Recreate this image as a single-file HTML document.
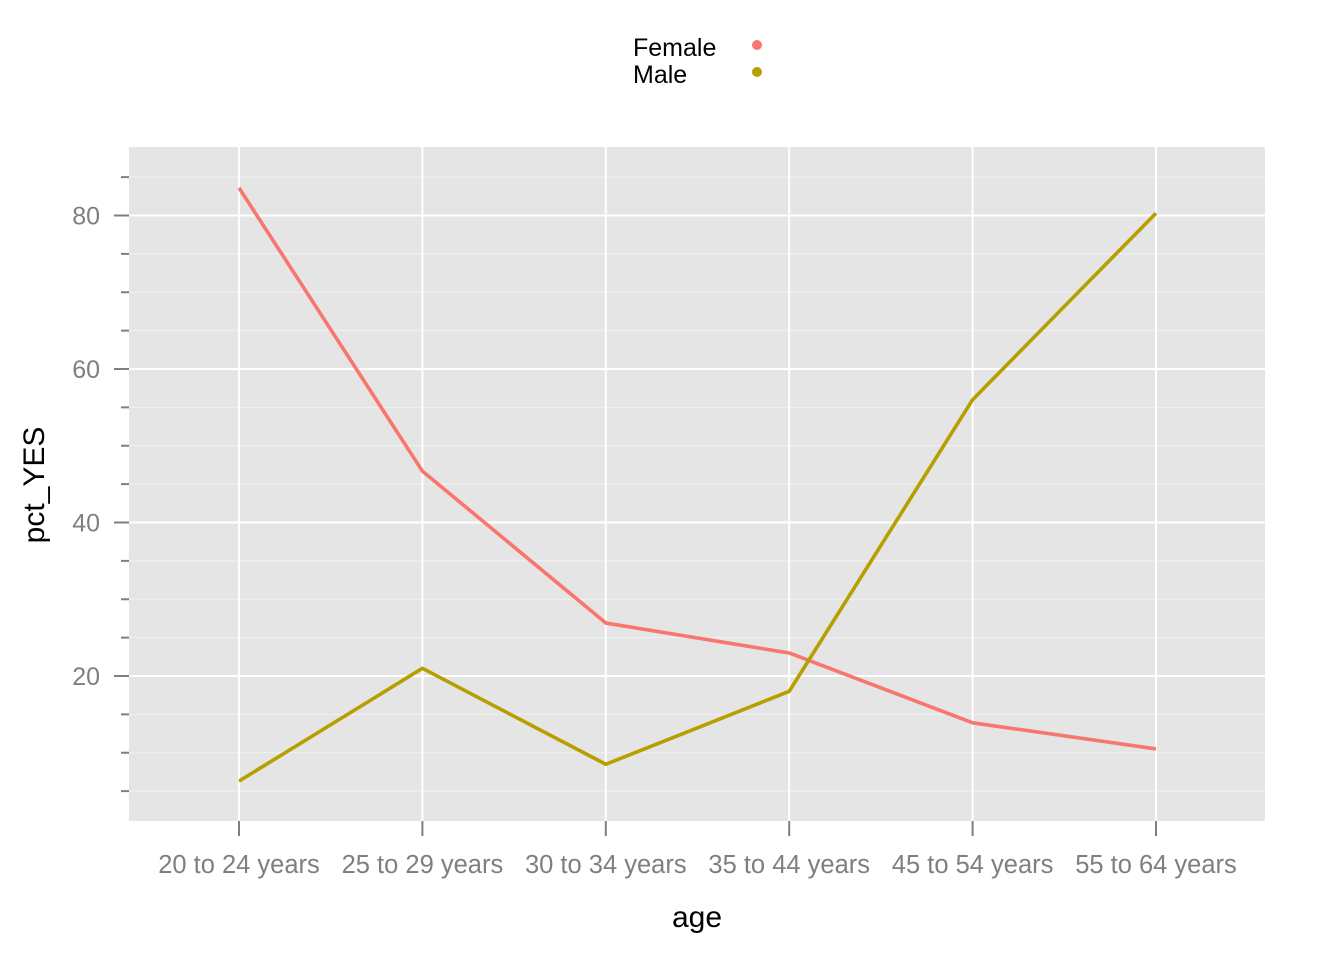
<!DOCTYPE html>
<html><head><meta charset="utf-8"><style>
body{margin:0;background:#fff;}
svg{display:block;font-family:"Liberation Sans",Arial,sans-serif;}
</style></head><body>
<svg id="chart" width="1344" height="960" viewBox="0 0 1344 960">
<rect x="129" y="147" width="1136" height="674" fill="#e5e5e5"/>
<g id="grid"></g><g id="axes"></g><g id="series"></g>
<text x="697" y="927" font-size="30" text-anchor="middle" fill="#000">age</text>
<text transform="translate(44,485) rotate(-90)" font-size="30" text-anchor="middle" fill="#000">pct_YES</text>
<g>
<text x="633" y="56" font-size="25" fill="#000">Female</text>
<circle cx="757" cy="45" r="5" fill="#f8766d"/>
<text x="633" y="83" font-size="25" fill="#000">Male</text>
<circle cx="757" cy="72" r="5" fill="#b79f00"/>
</g>
</svg>
<script>
const categories=["20 to 24 years","25 to 29 years","30 to 34 years","35 to 44 years","45 to 54 years","55 to 64 years"];
const femaleValues=[83.6,46.7,26.9,23.0,13.9,10.5];
const maleValues=[6.3,21.0,8.5,18.0,56.0,80.3];
const yMajorTicks=[20,40,60,80];
const yMinorTicks=[5,10,15,25,30,35,45,50,55,65,70,75,85];
const NS="http://www.w3.org/2000/svg";
function xs(i){return 239+i*183.4;}
function ys(v){return 676-(v-20)*7.675;}
function mk(tag,attrs,parent){const e=document.createElementNS(NS,tag);for(const k in attrs)e.setAttribute(k,attrs[k]);parent.appendChild(e);return e;}
const grid=document.getElementById('grid'),axes=document.getElementById('axes'),series=document.getElementById('series');
yMinorTicks.forEach(v=>{
  const l=mk('line',{x1:129,x2:1265,y1:ys(v),y2:ys(v),stroke:'#f2f2f2','stroke-width':1},grid);
  
  
  const t=mk('line',{x1:121,x2:129,y1:ys(v),y2:ys(v),stroke:'#7f7f7f','stroke-width':2},axes);
  
  
});
yMajorTicks.forEach(v=>{
  const l=mk('line',{x1:129,x2:1265,y1:ys(v),y2:ys(v),stroke:'#fff','stroke-width':2},grid);
  
  
  const t=mk('line',{x1:114,x2:129,y1:ys(v),y2:ys(v),stroke:'#7f7f7f','stroke-width':2},axes);
  
  
  const tx=mk('text',{x:100,y:ys(v)+9,'font-size':25,'text-anchor':'end',fill:'#7f7f7f'},axes);
  tx.textContent=v;
  
  
});
categories.forEach((c,i)=>{
  const l=mk('line',{x1:xs(i),x2:xs(i),y1:147,y2:821,stroke:'#fff','stroke-width':2},grid);
  
  
  const t=mk('line',{x1:xs(i),x2:xs(i),y1:821,y2:836,stroke:'#7f7f7f','stroke-width':2},axes);
  
  
  const tx=mk('text',{x:xs(i),y:873,'font-size':25.5,'text-anchor':'middle',fill:'#7f7f7f'},axes);
  tx.textContent=c;
  
  
});
function line(vals,color,name){
  const p=mk('polyline',{points:vals.map((v,i)=>xs(i)+','+ys(v)).join(' '),fill:'none',stroke:color,'stroke-width':3.6,'stroke-linejoin':'round'},series);
  
  
}
line(femaleValues,'#f8766d','female-line');
line(maleValues,'#b79f00','male-line');
</script>
</body></html>
